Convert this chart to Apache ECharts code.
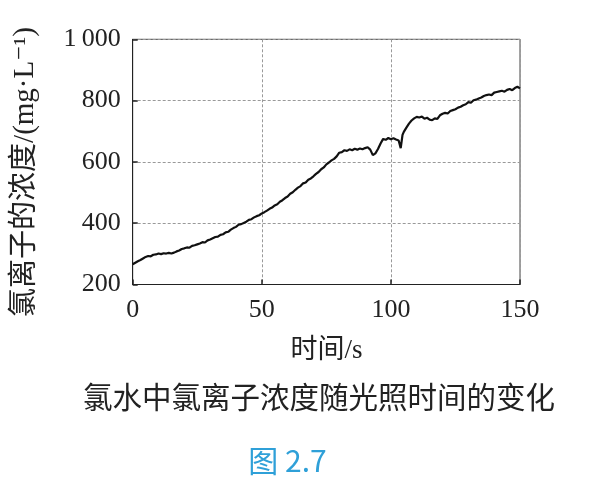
<!DOCTYPE html>
<html><head><meta charset="utf-8">
<script src="https://cdn.jsdelivr.net/npm/echarts@6/dist/echarts.min.js"></script>
<style>html,body{margin:0;padding:0;background:#fff;}#c{width:595px;height:488px;}</style>
</head><body><div id="c"></div>
<script>
var times = [0,1,2,3,4,5,6,7,8,9,10,11,12,13,14,15,16,17,18,19,20,21,22,23,24,25,26,27,28,29,30,31,32,33,34,35,36,37,38,39,40,41,42,43,44,45,46,47,48,49,50,51,52,53,54,55,56,57,58,59,60,61,62,63,64,65,66,67,68,69,70,71,72,73,74,75,76,77,78,79,80,81,82,83,84,85,86,87,88,89,90,91,92,93,94,95,96,97,98,99,100,101,102,103,103.8,104.5,105,106,107,108,109,110,111,112,113,114,115,116,117,118,119,120,121,122,123,124,125,126,127,128,129,130,131,132,133,134,135,136,137,138,139,140,141,142,143,144,145,146,147,148,149,150];
var concentration = [266,271,276,280,285,290,293,292,297,298,301,299,302,301,303,301,304,308,311,316,318,321,320,326,328,331,334,338,337,344,347,351,355,356,362,364,370,372,379,384,388,395,397,401,405,411,413,419,423,426,432,436,441,447,451,458,462,470,475,482,487,496,501,509,516,521,530,533,542,546,553,561,567,576,582,592,598,605,610,618,630,632,638,636,641,638,643,640,644,641,645,648,640,622,628,642,660,675,672,678,674,677,673,670,645,688,698,712,725,735,742,747,745,748,741,744,738,736,742,740,752,757,760,758,766,769,772,777,780,785,788,795,793,801,803,807,810,815,818,820,818,826,828,830,832,829,835,838,834,841,845,840];
var xTicks = [0,50,100,150];
var yTicks = [200,400,600,800,1000];
var yName = '氯离子的浓度/(mg·L⁻¹)';
var xName = '时间/s';
var caption = '氯水中氯离子浓度随光照时间的变化';
var figLabel = '图 2.7';

var pts = times.map(function(t,i){return [t, concentration[i]];});
var chart = echarts.init(document.getElementById('c'));
var serif = '"Liberation Serif","DejaVu Serif","Noto Sans CJK SC",serif';
chart.setOption({
  animation:false,
  backgroundColor:'#fff',
  grid:{left:132.7, right:75, top:39.3, bottom:203.5, show:true, borderColor:'#444', borderWidth:1},
  xAxis:{type:'value', min:0, max:150, interval:50,
    axisLine:{show:true,lineStyle:{color:'#222',width:1}},
    axisTick:{show:true,inside:true,length:5,lineStyle:{color:'#222',width:1.5}},
    axisLabel:{color:'#222',fontFamily:serif,fontSize:26,margin:13,
      formatter:function(v){return xTicks.indexOf(v)>=0?String(v):'';}},
    splitLine:{show:true,lineStyle:{color:'#999',type:[3,2],width:1}}
  },
  yAxis:{type:'value', min:200, max:1000, interval:200,
    axisLine:{show:true,lineStyle:{color:'#222',width:1}},
    axisTick:{show:true,inside:true,length:5,lineStyle:{color:'#222',width:1.5}},
    axisLabel:{color:'#222',fontFamily:serif,fontSize:26,margin:12,
      formatter:function(v){return yTicks.indexOf(v)<0?'':(v===1000?'1\u2009000':String(v));}},
    splitLine:{show:true,lineStyle:{color:'#999',type:[3,2],width:1}}
  },
  series:[{type:'line', data:pts, showSymbol:false, symbol:'none',
    lineStyle:{color:'#111',width:2.2}, z:5}],
  graphic:[
    {type:'text', x:25, y:172, rotation:Math.PI/2, style:{text:yName, fill:'#222', font:'29px '+serif, textAlign:'center', textVerticalAlign:'middle'}},
    {type:'text', x:326.5, y:351, style:{text:xName, fill:'#222', font:'27px '+serif, textAlign:'center', textVerticalAlign:'middle'}},
    {type:'text', x:319, y:397, style:{text:caption, fill:'#222', font:'29.5px "Noto Sans CJK SC",sans-serif', textAlign:'center', textVerticalAlign:'middle'}},
    {type:'text', x:287.5, y:461, style:{text:figLabel, fill:'#2fa0d8', font:'30px "Noto Sans CJK SC",sans-serif', textAlign:'center', textVerticalAlign:'middle'}}
  ]
});
</script></body></html>
